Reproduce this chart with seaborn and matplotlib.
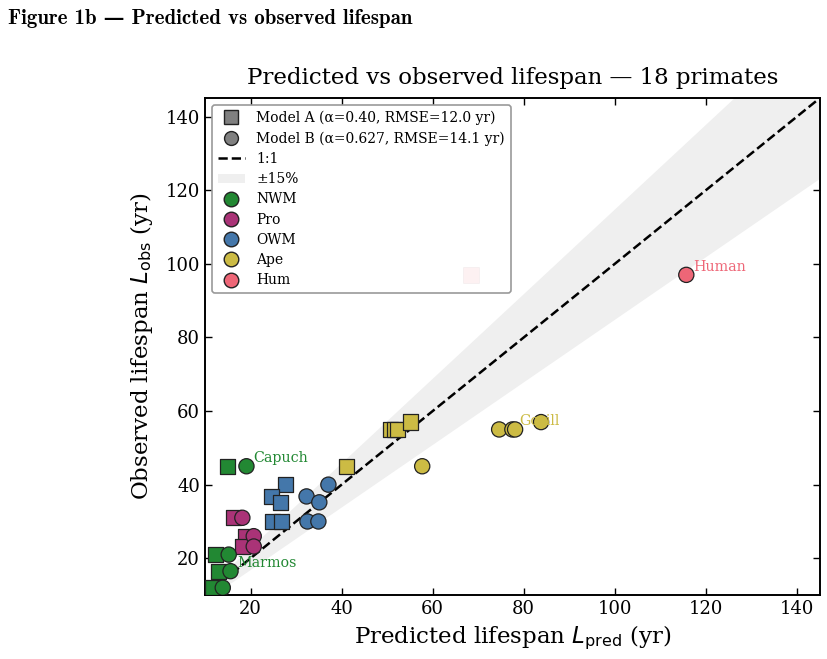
import matplotlib
matplotlib.use("Agg")
import matplotlib.pyplot as plt
import numpy as np
import pandas as pd
import seaborn as sns
from matplotlib.lines import Line2D
from matplotlib.patches import Patch

# ---- data ----
groups = ["NWM", "NWM", "NWM", "NWM",
          "Pro", "Pro", "Pro",
          "OWM", "OWM", "OWM", "OWM", "OWM",
          "Ape", "Ape", "Ape", "Ape", "Ape",
          "Hum"]
names = ["Capuch", "", "Marmos", "",
         "", "", "",
         "", "", "", "", "",
         "", "", "Gorill", "", "",
         "Human"]
obs = [45, 21, 16.5, 12,
       31, 26, 23.2,
       40, 36.8, 35.2, 30, 30,
       45, 55, 55, 55, 57,
       97]
pred_a = [15.0, 12.3, 13.0, 11.7,
          16.3, 18.9, 18.2,
          27.7, 24.6, 26.6, 24.8, 26.8,
          41.1, 50.7, 51.6, 52.3, 55.1,
          68.5]
pred_b = [19.1, 15.2, 15.6, 13.9,
          18.2, 20.7, 20.7,
          37.1, 32.3, 35.1, 32.5, 34.9,
          57.7, 74.6, 77.5, 78.1, 83.8,
          115.7]

group_order = ["NWM", "Pro", "OWM", "Ape", "Hum"]
palette = {"NWM": "#228833", "Pro": "#AA3377", "OWM": "#4477AA",
           "Ape": "#CCBB44", "Hum": "#EE6677"}

df = pd.DataFrame({"group": groups, "name": names, "obs": obs,
                   "pred_a": pred_a, "pred_b": pred_b})

sns.set_theme(style="ticks")
plt.rcParams["font.family"] = ["DejaVu Serif"]
plt.rcParams["mathtext.fontset"] = "dejavusans"
for k in ["text.color", "axes.labelcolor", "xtick.color", "ytick.color"]:
    plt.rcParams[k] = "black"

fig = plt.figure(figsize=(8.28, 6.59), dpi=100)
ax = fig.add_axes([0.2476, 0.097, 0.7424, 0.754])

lim = (10, 145)
xx = np.linspace(0, 150, 200)
ax.fill_between(xx, xx * 0.85, xx * 1.15, color="#efefef", lw=0, zorder=1)
ax.plot(xx, xx, ls="--", color="black", lw=1.8, zorder=2)

# Model A squares (human drawn faint, on top of the legend)
main = df[df["group"] != "Hum"]
sns.scatterplot(data=main, x="pred_a", y="obs", hue="group", palette=palette,
                marker="s", s=120, edgecolor="#222222", linewidth=0.9,
                legend=False, ax=ax, zorder=3)
hum = df[df["group"] == "Hum"]
sns.scatterplot(data=hum, x="pred_a", y="obs", hue="group", palette=palette,
                marker="s", s=120, edgecolor="#999999", linewidth=0.6,
                alpha=0.09, legend=False, ax=ax, zorder=6)
# Model B circles
sns.scatterplot(data=df, x="pred_b", y="obs", hue="group", palette=palette,
                marker="o", s=120, edgecolor="#222222", linewidth=0.9,
                legend=False, ax=ax, zorder=4)

for _, r in df[df["name"] != ""].iterrows():
    ax.annotate(r["name"], (r["pred_b"], r["obs"]), xytext=(5, 3),
                textcoords="offset points", fontsize=10.3,
                color=palette[r["group"]], zorder=5)

ax.set_xlim(lim)
ax.set_ylim(lim)
ax.set_xticks([20, 40, 60, 80, 100, 120, 140])
ax.set_yticks([20, 40, 60, 80, 100, 120, 140])
ax.tick_params(direction="in", top=True, right=True, labelsize=13,
               length=5, width=1)
for sp in ax.spines.values():
    sp.set_linewidth(1.4)
    sp.set_color("black")

ax.set_xlabel(r"Predicted lifespan $L_{\rm pred}$ (yr)", fontsize=16.5)
ax.set_ylabel(r"Observed lifespan $L_{\rm obs}$ (yr)", fontsize=16.5,
              labelpad=7.5)
ax.set_title("Predicted vs observed lifespan — 18 primates", fontsize=16.5, pad=10)

handles = [
    Line2D([], [], marker="s", ls="", color="#808080", mec="#222222",
           ms=10, label="Model A (α=0.40, RMSE=12.0 yr)"),
    Line2D([], [], marker="o", ls="", color="#808080", mec="#222222",
           ms=10, label="Model B (α=0.627, RMSE=14.1 yr)"),
    Line2D([], [], ls="--", color="black", lw=1.8, label="1:1"),
    Patch(facecolor="#efefef", edgecolor="none", label="±15%"),
]
for g in group_order:
    handles.append(Line2D([], [], marker="o", ls="", color=palette[g],
                          mec="#222222", ms=10.5, label=g))
leg = ax.legend(handles=handles, loc="upper left", fontsize=10,
                frameon=True, framealpha=1, edgecolor="#999999",
                borderpad=0.4, labelspacing=0.45)
leg.get_frame().set_linewidth(1.2)

fig.text(0.01, 0.972, "Figure 1b — Predicted vs observed lifespan",
         fontsize=15, fontweight="bold", ha="left", va="center",
         family=["cmb10", "DejaVu Serif"])

fig.savefig("out.png", dpi=100)
